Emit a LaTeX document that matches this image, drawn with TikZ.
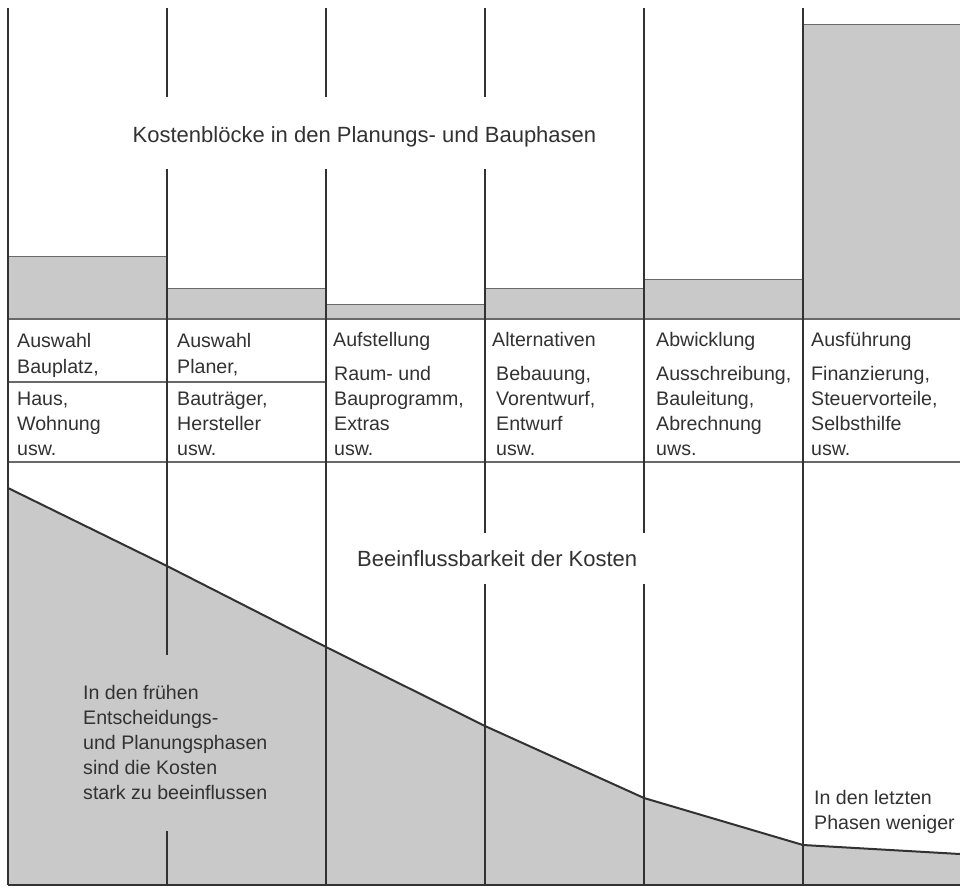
\documentclass[tikz,border=0pt]{standalone}
\usepackage{fontspec}
\setmainfont{Liberation Sans}
\definecolor{blockgray}{RGB}{201,201,201}
\definecolor{ink}{RGB}{50,50,50}
\definecolor{rule}{RGB}{105,105,105}
\begin{document}
\begin{tikzpicture}[x=1pt,y=-1pt,
  vline/.style={draw=ink,line width=1.4pt},
  hline/.style={draw=rule,line width=1.1pt},
  edgeline/.style={draw=rule,line width=1pt},
  curveline/.style={draw=ink,line width=2pt,line join=round},
  title/.style={font=\fontsize{22}{26}\selectfont,text=ink,inner sep=0pt,anchor=base west},
  cell/.style={font=\fontsize{19.6}{25}\selectfont,text=ink,inner sep=0pt,anchor=base west,align=left},
]
\fill[white] (0,0) rectangle (960,888);
\useasboundingbox (0,0) rectangle (960,888);
% top gray cost blocks
\fill[blockgray] (8,256) rectangle (167,319);
\fill[blockgray] (167,288) rectangle (326,319);
\fill[blockgray] (326,304) rectangle (485,319);
\fill[blockgray] (485,288) rectangle (644,319);
\fill[blockgray] (644,279) rectangle (803,319);
\fill[blockgray] (803,25) rectangle (960,319);
\draw[edgeline] (8,256) -- (167,256);
\draw[edgeline] (167,288) -- (326,288);
\draw[edgeline] (326,304) -- (485,304);
\draw[edgeline] (485,288) -- (644,288);
\draw[edgeline] (644,279) -- (803,279);
\draw[edgeline] (803,25) -- (960,25);
% influence curve
\coordinate (p0) at (8,488);
\coordinate (p1) at (167,566);
\coordinate (p2) at (326,647);
\coordinate (p3) at (485,726);
\coordinate (p4) at (644,798);
\coordinate (p5) at (803,845);
\coordinate (p6) at (960,854);
\coordinate (q6) at (960,885);
\coordinate (q0) at (8,885);
\fill[blockgray] (p0) -- (p1) -- (p2) -- (p3) -- (p4) -- (p5) -- (p6) -- (q6) -- (q0) -- cycle;
\draw[curveline] (p0) -- (p1) -- (p2) -- (p3) -- (p4) -- (p5) -- (p6);
% horizontal rules
\draw[hline] (8,319) -- (960,319);
\draw[hline] (8,462) -- (960,462);
\draw[hline] (8,382) -- (326,382);
\draw[vline] (8,885) -- (960,885);
% vertical lines
\draw[vline] (8,8) -- (8,885);
\draw[vline] (167,8) -- (167,97) (167,169) -- (167,655) (167,831) -- (167,885);
\draw[vline] (326,8) -- (326,97) (326,169) -- (326,885);
\draw[vline] (485,8) -- (485,97) (485,169) -- (485,533) (485,584) -- (485,885);
\draw[vline] (644,8) -- (644,533) (644,584) -- (644,885);
\draw[vline] (803,8) -- (803,885);
% titles
\node[title] (t1) at (132.5,142) {Kostenblöcke in den Planungs- und Bauphasen};
\node[title] (t2) at (357,566) {Beeinflussbarkeit der Kosten};
% column cells (anchor on last line's baseline)
\node[cell] (h1) at (17,373) {Auswahl\\[1pt]Bauplatz,};
\node[cell] (b1) at (17,455) {Haus,\\Wohnung\\usw.};
\node[cell] (h2) at (177,373) {Auswahl\\[1pt]Planer,};
\node[cell] (b2) at (177,455) {Bauträger,\\Hersteller\\usw.};
\node[cell] (h3) at (333,346) {Aufstellung};
\node[cell] (b3) at (334,455) {Raum- und\\Bauprogramm,\\Extras\\usw.};
\node[cell] (h4) at (492,346) {Alternativen};
\node[cell] (b4) at (496,455) {Bebauung,\\Vorentwurf,\\Entwurf\\usw.};
\node[cell] (h5) at (656,346) {Abwicklung};
\node[cell] (b5) at (656,455) {Ausschreibung,\\Bauleitung,\\Abrechnung\\uws.};
\node[cell] (h6) at (811,346) {Ausführung};
\node[cell] (b6) at (811,455) {Finanzierung,\\Steuervorteile,\\Selbsthilfe\\usw.};
% notes
\node[cell] (n1) at (83,799) {In den frühen\\Entscheidungs-\\und Planungsphasen\\sind die Kosten\\stark zu beeinflussen};
\node[cell] (n2) at (814,829) {In den letzten\\Phasen weniger};
\end{tikzpicture}
\end{document}
